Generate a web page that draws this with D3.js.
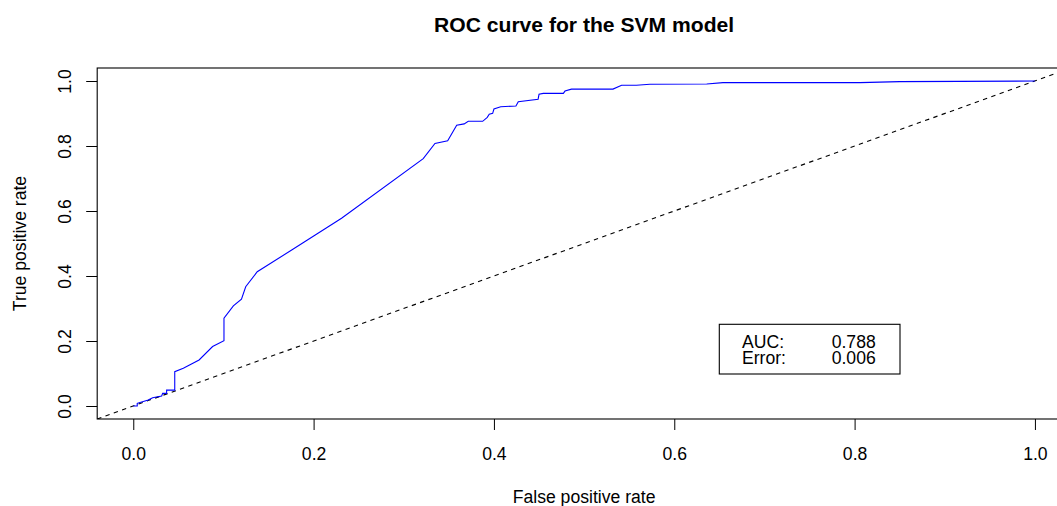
<!DOCTYPE html>
<html>
<head>
<meta charset="utf-8">
<script src="https://cdn.jsdelivr.net/npm/d3@7"></script>
<style>
  body { margin: 0; background: #fff; }
  svg { display: block; font-family: "Liberation Sans", Arial, Helvetica, sans-serif; }
</style>
</head>
<body>
<div id="chart"></div>
<script>
// ROC curve values
var fpr = [0, 0.0044, 0.0044, 0.0093, 0.0166, 0.0215, 0.0315, 0.0326, 0.037, 0.037, 0.046, 0.046,
    0.0555, 0.073, 0.088, 0.1006, 0.1006, 0.111, 0.120, 0.1247, 0.1375, 0.1757, 0.231, 0.3216,
    0.3346, 0.3487, 0.3587, 0.367, 0.3715, 0.3875, 0.3926, 0.3948, 0.3986, 0.40, 0.4075, 0.4244,
    0.427, 0.449, 0.45, 0.4547, 0.477, 0.4788, 0.486, 0.532, 0.5416, 0.558, 0.573, 0.636, 0.654,
    0.806, 0.85, 1];
var tpr = [0, 0, 0.0083, 0.0123, 0.0185, 0.0255, 0.0308, 0.039, 0.039, 0.049, 0.049, 0.1055,
    0.116, 0.1415, 0.183, 0.201, 0.27, 0.308, 0.329, 0.367, 0.413, 0.48, 0.5775, 0.761,
    0.808, 0.816, 0.8637, 0.868, 0.876, 0.876, 0.888, 0.898, 0.9006, 0.9138, 0.921, 0.923,
    0.936, 0.944, 0.959, 0.962, 0.962, 0.969, 0.975, 0.975, 0.987, 0.987, 0.99, 0.991, 0.995,
    0.995, 0.998, 1];
var tickValues = [0, 0.2, 0.4, 0.6, 0.8, 1.0];
var legendLabels = ["AUC:", "Error:"];
var legendValues = ["0.788", "0.006"];

var width = 1057, height = 506;
var box = {left: 97.2, right: 1071, top: 68, bottom: 419};
var fs = 17.6;

var svg = d3.select("#chart").append("svg")
    .attr("width", width)
    .attr("height", height);

var x = d3.scaleLinear().domain([-0.04, 1.04]).range([box.left, box.right]);
var y = d3.scaleLinear().domain([-0.04, 1.04]).range([box.bottom, box.top]);

// title
svg.append("text")
    .attr("x", (box.left + box.right) / 2)
    .attr("y", 32.3)
    .attr("text-anchor", "middle")
    .style("font-size", "21.1px")
    .style("font-weight", "bold")
    .text("ROC curve for the SVM model");

// axes
var xAxis = svg.append("g")
    .attr("transform", "translate(0," + box.bottom + ")")
    .call(d3.axisBottom(x).tickValues(tickValues).tickFormat(d3.format(".1f")).tickSize(11).tickSizeOuter(0));
xAxis.select(".domain").remove();
xAxis.selectAll("text").attr("y", 0).attr("dy", 40.6 - 0).style("font-size", fs + "px").attr("fill", "#000");

var yAxis = svg.append("g")
    .attr("transform", "translate(" + box.left + ",0)")
    .call(d3.axisLeft(y).tickValues(tickValues).tickFormat(d3.format(".1f")).tickSize(11).tickSizeOuter(0));
yAxis.select(".domain").remove();
yAxis.selectAll("text")
    .attr("x", null).attr("dy", null)
    .attr("text-anchor", "middle")
    .attr("transform", "translate(-26.5,0) rotate(-90)")
    .style("font-size", fs + "px")
    .attr("fill", "#000");
svg.selectAll(".tick line").attr("stroke", "#000");

// axis titles
svg.append("text")
    .attr("x", (box.left + box.right) / 2)
    .attr("y", 503)
    .attr("text-anchor", "middle")
    .style("font-size", fs + "px")
    .text("False positive rate");

svg.append("text")
    .attr("transform", "translate(26," + ((box.top + box.bottom) / 2) + ") rotate(-90)")
    .attr("text-anchor", "middle")
    .style("font-size", fs + "px")
    .text("True positive rate");

// plot box
svg.append("rect")
    .attr("x", box.left)
    .attr("y", box.top)
    .attr("width", box.right - box.left)
    .attr("height", box.bottom - box.top)
    .attr("fill", "none")
    .attr("stroke", "#000")
    .attr("stroke-width", 1.1);

var clip = svg.append("clipPath").attr("id", "clip")
    .append("rect")
    .attr("x", box.left).attr("y", box.top)
    .attr("width", box.right - box.left).attr("height", box.bottom - box.top);

var plot = svg.append("g").attr("clip-path", "url(#clip)");

// chance diagonal
plot.append("line")
    .attr("x1", x(-0.04)).attr("y1", y(-0.04))
    .attr("x2", x(1.04)).attr("y2", y(1.04))
    .attr("stroke", "#000")
    .attr("stroke-width", 1.1)
    .attr("stroke-dasharray", "4.4,4.4");

// roc curve
var line = d3.line()
    .x(function(d) { return x(d[0]); })
    .y(function(d) { return y(d[1]); });

plot.append("path")
    .datum(d3.zip(fpr, tpr))
    .attr("d", line)
    .attr("fill", "none")
    .attr("stroke", "#0000ff")
    .attr("stroke-width", 1.1);

// legend
svg.append("rect")
    .attr("x", 719.3).attr("y", 324.3)
    .attr("width", 900 - 719.3).attr("height", 374 - 324.3)
    .attr("fill", "#fff")
    .attr("stroke", "#000")
    .attr("stroke-width", 1.1);

legendLabels.forEach(function(lab, i) {
    svg.append("text")
        .attr("x", 742)
        .attr("y", 347.7 + i * 16.6)
        .style("font-size", fs + "px")
        .text(lab);
    svg.append("text")
        .attr("x", 831.7)
        .attr("y", 347.7 + i * 16.6)
        .style("font-size", fs + "px")
        .text(legendValues[i]);
});
</script>
</body>
</html>
